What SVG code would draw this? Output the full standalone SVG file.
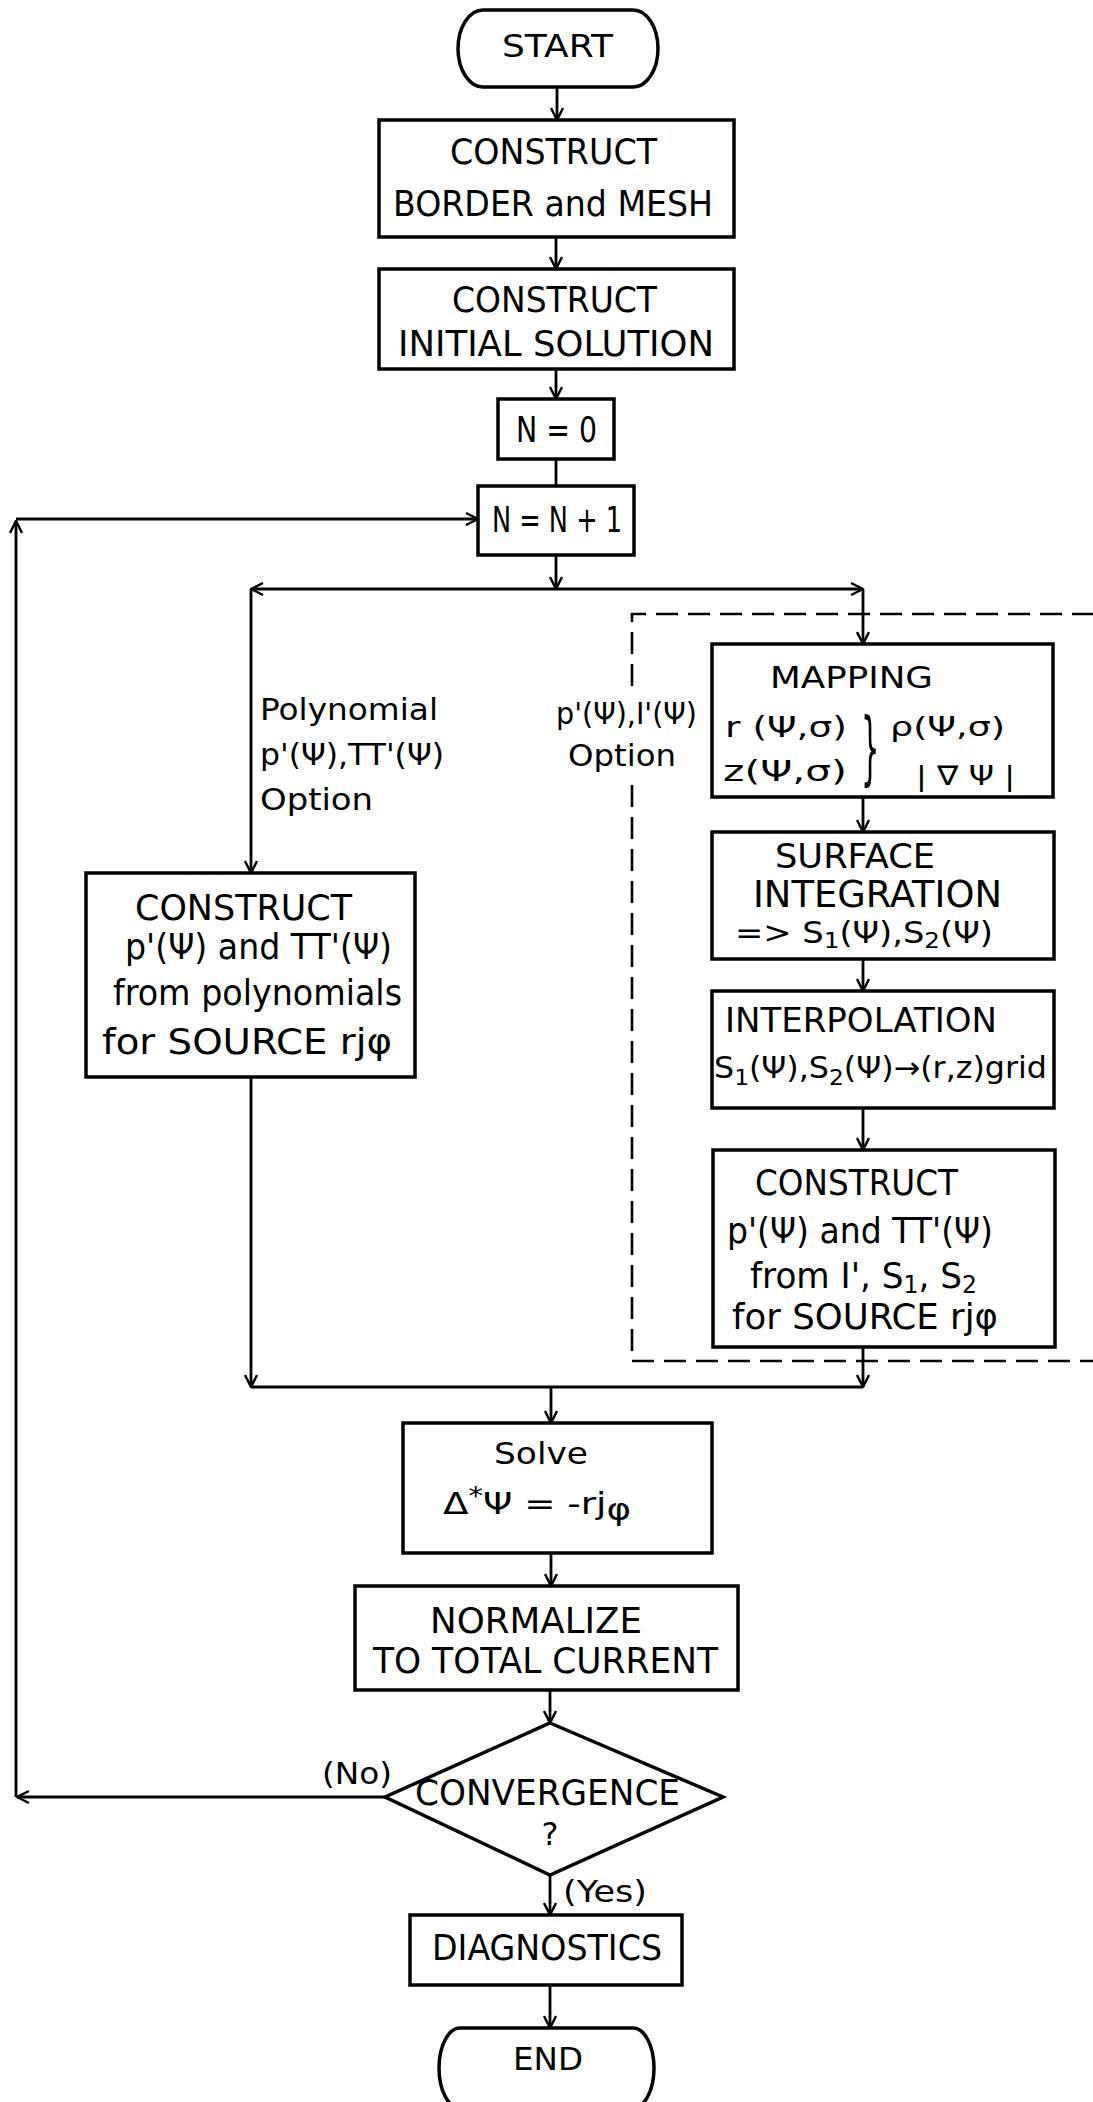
<svg xmlns="http://www.w3.org/2000/svg" width="1093" height="2102" viewBox="0 0 1093 2102">
<defs>
<marker id="arr" viewBox="0 0 14 14" refX="13" refY="7" markerWidth="14" markerHeight="14" markerUnits="userSpaceOnUse" orient="auto">
<path d="M1,1 L13,7 L1,13" fill="none" stroke="#000" stroke-width="2.4"/>
</marker>
</defs>
<style>
.box{fill:#fff;stroke:#000;stroke-width:3.5}
.c{fill:none;stroke:#000;stroke-width:2.8;marker-end:url(#arr)}
.l{fill:none;stroke:#000;stroke-width:2.8}
.d{fill:none;stroke:#000;stroke-width:2.6;stroke-dasharray:22 10}
text{font-family:"DejaVu Sans","Liberation Sans",sans-serif;fill:#000}
.t{font-size:35px}
.s{font-size:30px}
.m{font-size:28px}
</style>
<rect width="1093" height="2102" fill="#fff"/>

<g id="option-region">
<path class="d" d="M632 686 V614 H1100"/>
<path class="d" d="M632 785 V1361 H1100"/>
</g>

<g id="connectors">
<path class="c" d="M557 87 V120"/>
<path class="c" d="M556 237 V269"/>
<path class="c" d="M556 369 V399"/>
<path class="l" d="M556 459 V486"/>
<path class="c" d="M556 555 V589"/>
<path class="c" d="M556 589 H251"/>
<path class="c" d="M556 589 H863"/>
<path class="c" d="M251 589 V873"/>
<path class="c" d="M863 589 V644"/>
<path class="c" d="M863 797 V832"/>
<path class="c" d="M863 959 V991"/>
<path class="c" d="M863 1108 V1150"/>
<path class="c" d="M863 1347 V1387"/>
<path class="c" d="M251 1077 V1387"/>
<path class="l" d="M251 1387 H863"/>
<path class="c" d="M551 1387 V1423"/>
<path class="c" d="M551 1553 V1586"/>
<path class="c" d="M550 1690 V1723"/>
<path class="c" d="M385 1797 H17"/>
<path class="c" d="M16 1797 V521"/>
<path class="c" d="M16 519 H478"/>
<path class="c" d="M550 1875 V1915"/>
<path class="c" d="M550 1985 V2028"/>
<text class="s" x="260" y="720" textLength="178" lengthAdjust="spacingAndGlyphs">Polynomial</text>
<text class="s" x="260" y="765" textLength="184" lengthAdjust="spacingAndGlyphs">p'(Ψ),TT'(Ψ)</text>
<text class="s" x="260" y="810" textLength="113" lengthAdjust="spacingAndGlyphs">Option</text>
<text class="s" x="556" y="724" textLength="141" lengthAdjust="spacingAndGlyphs">p'(Ψ),I'(Ψ)</text>
<text class="s" x="568" y="766" textLength="108" lengthAdjust="spacingAndGlyphs">Option</text>
<text class="s" x="322" y="1784" textLength="70" lengthAdjust="spacingAndGlyphs">(No)</text>
<text class="s" x="563" y="1902" textLength="84" lengthAdjust="spacingAndGlyphs">(Yes)</text>
</g>

<g id="n-start">
<path class="box" d="M483 10 H633 A25 38.5 0 0 1 633 87 H483 A25 38.5 0 0 1 483 10 Z"/>
<text x="502" y="57" font-size="32" textLength="111" lengthAdjust="spacingAndGlyphs">START</text>
</g>

<g id="n-border">
<rect class="box" x="379" y="120" width="355" height="117"/>
<text class="t" x="450" y="164" textLength="207" lengthAdjust="spacingAndGlyphs">CONSTRUCT</text>
<text class="t" x="393" y="216" textLength="320" lengthAdjust="spacingAndGlyphs">BORDER and MESH</text>
</g>

<g id="n-init">
<rect class="box" x="379" y="269" width="355" height="100"/>
<text class="t" x="452" y="312" textLength="205" lengthAdjust="spacingAndGlyphs">CONSTRUCT</text>
<text class="t" x="398" y="356" textLength="316" lengthAdjust="spacingAndGlyphs">INITIAL  SOLUTION</text>
</g>

<g id="n-n0">
<rect class="box" x="498" y="399" width="116" height="60"/>
<text class="t" x="516" y="442" textLength="81" lengthAdjust="spacingAndGlyphs">N = 0</text>
</g>

<g id="n-n1">
<rect class="box" x="478" y="486" width="156" height="69"/>
<text class="t" x="492" y="532" textLength="130" lengthAdjust="spacingAndGlyphs">N = N + 1</text>
</g>

<g id="n-poly">
<rect class="box" x="86" y="873" width="329" height="204"/>
<text class="t" x="135" y="920" textLength="217" lengthAdjust="spacingAndGlyphs">CONSTRUCT</text>
<text class="t" x="125" y="959" textLength="267" lengthAdjust="spacingAndGlyphs">p'(Ψ) and TT'(Ψ)</text>
<text class="t" x="113" y="1005" textLength="289" lengthAdjust="spacingAndGlyphs">from polynomials</text>
<text class="t" x="102" y="1054" textLength="290" lengthAdjust="spacingAndGlyphs">for SOURCE  rjφ</text>
</g>

<g id="n-map">
<rect class="box" x="712" y="644" width="341" height="153"/>
<text x="770" y="688" font-size="30" textLength="163" lengthAdjust="spacingAndGlyphs">MAPPING</text>
<text class="m" x="725" y="737" textLength="122" lengthAdjust="spacingAndGlyphs">r (Ψ,σ)</text>
<text class="m" x="723" y="781" textLength="124" lengthAdjust="spacingAndGlyphs">z(Ψ,σ)</text>
<text transform="translate(861 775) scale(0.36 1)" font-size="80">}</text>
<text x="890" y="736" font-size="27" textLength="115" lengthAdjust="spacingAndGlyphs">ρ(Ψ,σ)</text>
<text x="916" y="785" font-size="27" textLength="99" lengthAdjust="spacingAndGlyphs">| ∇ Ψ |</text>
</g>

<g id="n-surf">
<rect class="box" x="712" y="832" width="342" height="127"/>
<text x="775" y="868" font-size="34" textLength="160" lengthAdjust="spacingAndGlyphs">SURFACE</text>
<text x="753" y="907" font-size="38" textLength="249" lengthAdjust="spacingAndGlyphs">INTEGRATION</text>
<text class="s" x="735" y="943" textLength="258" lengthAdjust="spacingAndGlyphs">=&gt; S<tspan font-size="22" dy="5">1</tspan><tspan dy="-5">(Ψ),S</tspan><tspan font-size="22" dy="5">2</tspan><tspan dy="-5">(Ψ)</tspan></text>
</g>

<g id="n-interp">
<rect class="box" x="712" y="991" width="342" height="117"/>
<text x="725" y="1032" font-size="33" textLength="272" lengthAdjust="spacingAndGlyphs">INTERPOLATION</text>
<text class="s" x="714" y="1078" textLength="333" lengthAdjust="spacingAndGlyphs">S<tspan font-size="22" dy="7">1</tspan><tspan dy="-7">(Ψ),S</tspan><tspan font-size="22" dy="7">2</tspan><tspan dy="-7">(Ψ)→(r,z)grid</tspan></text>
</g>

<g id="n-constr2">
<rect class="box" x="713" y="1150" width="342" height="197"/>
<text class="t" x="755" y="1195" textLength="203" lengthAdjust="spacingAndGlyphs">CONSTRUCT</text>
<text class="t" x="727" y="1243" textLength="266" lengthAdjust="spacingAndGlyphs">p'(Ψ) and TT'(Ψ)</text>
<text class="t" x="750" y="1288" textLength="227" lengthAdjust="spacingAndGlyphs">from I', S<tspan font-size="24" dy="5">1</tspan><tspan dy="-5">, S</tspan><tspan font-size="24" dy="5">2</tspan></text>
<text class="t" x="732" y="1329" textLength="266" lengthAdjust="spacingAndGlyphs">for SOURCE rjφ</text>
</g>

<g id="n-solve">
<rect class="box" x="403" y="1423" width="309" height="130"/>
<text x="494" y="1464" font-size="31" textLength="94" lengthAdjust="spacingAndGlyphs">Solve</text>
<text x="443" y="1514" font-size="31" textLength="188" lengthAdjust="spacingAndGlyphs">Δ<tspan font-size="24" dy="-10">*</tspan><tspan dy="10">Ψ = -rj</tspan><tspan dy="6">φ</tspan></text>
</g>

<g id="n-norm">
<rect class="box" x="355" y="1586" width="383" height="104"/>
<text class="t" x="430" y="1633" textLength="212" lengthAdjust="spacingAndGlyphs">NORMALIZE</text>
<text class="t" x="373" y="1673" textLength="345" lengthAdjust="spacingAndGlyphs">TO TOTAL  CURRENT</text>
</g>

<g id="n-conv">
<path class="box" d="M550 1723 L723 1797 L550 1875 L385 1797 Z"/>
<text x="415" y="1805" font-size="35" textLength="265" lengthAdjust="spacingAndGlyphs">CONVERGENCE</text>
<text x="550" y="1845" font-size="32" text-anchor="middle">?</text>
</g>

<g id="n-diag">
<rect class="box" x="410" y="1915" width="272" height="70"/>
<text x="432" y="1960" font-size="35" textLength="230" lengthAdjust="spacingAndGlyphs">DIAGNOSTICS</text>
</g>

<g id="n-end">
<path class="box" d="M460 2028 H633 A21 40 0 0 1 633 2108 H460 A21 40 0 0 1 460 2028 Z"/>
<text x="513" y="2070" font-size="32" textLength="70" lengthAdjust="spacingAndGlyphs">END</text>
</g>
</svg>
